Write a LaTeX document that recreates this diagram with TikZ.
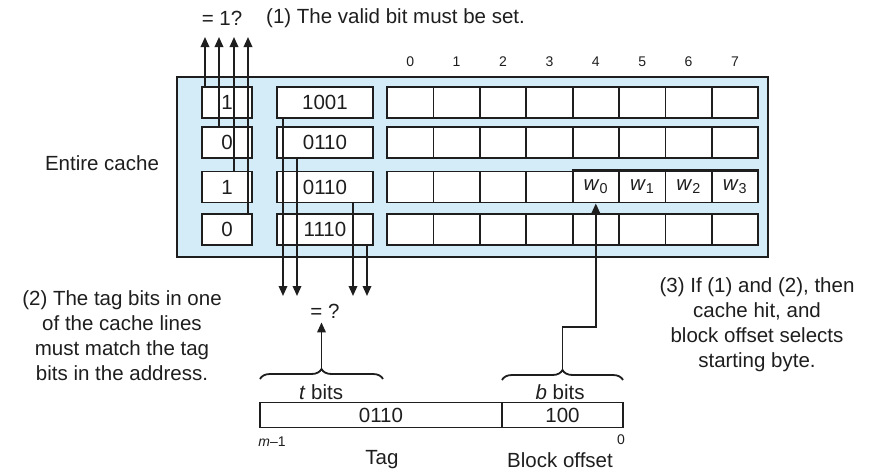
\documentclass[tikz,border=0pt]{standalone}
\usepackage{fontspec}
\setmainfont{Liberation Sans}
\usetikzlibrary{arrows.meta,decorations.pathreplacing}
\definecolor{cacheblue}{RGB}{212,236,248}
\definecolor{ink}{RGB}{30,30,30}

\begin{document}
\begin{tikzpicture}[x=1pt,y=-1pt,
  font=\fontsize{20.5}{25}\selectfont, line width=1.8pt, color=ink,
  cell/.style={draw,fill=white,inner sep=0pt,minimum height=31pt},
  small/.style={font=\fontsize{14}{16}\selectfont},
  brc/.style={decorate,decoration={brace,amplitude=10pt}},
  >={Triangle[length=10pt,width=8.5pt]}]
\useasboundingbox (0,0) rectangle (870,474);
% the cache
\node[draw,fill=cacheblue,inner sep=0pt,minimum width=591pt,minimum height=180pt] (cache) at (472.5,167) {};
\foreach \r/\y/\v/\t in {1/102.5/1/1001,2/142.5/0/0110,3/187/1/0110,4/229.5/0/1110}{
  \node[cell,minimum width=50pt] (v\r) at (227,\y) {\v};
  \node[cell,minimum width=96pt] (t\r) at (325,\y) {\t};
  \foreach \c in {0,...,7}
    \node[cell,minimum width=46.4pt] (d\r-\c) at ({410.2+46.4*\c},\y) {};
}
\foreach \c in {0,...,7}
  \node[small] (col\c) at ({410.2+46.4*\c},62) {\c};
\foreach \c/\k in {4/0,5/1,6/2,7/3}
  \node (w\k) at (d3-\c) {\textit{w}\textsubscript{\k}};
\draw[line width=2.8pt] (d3-4.north west) -- (d3-7.north east);
\node (entire) at (102,163) {Entire cache};
% valid bits up, tags down
\foreach \i/\x in {1/205,2/219,3/234,4/248}{
  \coordinate (up\i) at (\x,37);
  \draw[->] (up\i |- v\i.north) -- (up\i);
}
\foreach \i/\x in {1/283,2/297,3/353,4/367}{
  \coordinate (dn\i) at (\x,296);
  \draw[->] (dn\i |- t\i.south) -- (dn\i);
}
\node (valid) at (222,18) {= 1?};
\node[anchor=west] (step1) at (262,18) {(1) The valid bit must be set.};
\node (eqq) at (325,311) {= ?};
% the address
\node[cell,minimum width=242pt,minimum height=25pt] (tagf) at (381,415) {0110};
\node[cell,minimum width=121pt,minimum height=25pt] (offf) at (562.5,415) {100};
\coordinate (tb0) at (260,379); \coordinate (tb1) at (383,379);
\coordinate (bb0) at (502,380); \coordinate (bb1) at (623,380);
\draw[brc] (tb0) -- (tb1);
\draw[brc] (bb0) -- (bb1);
\coordinate (tbr) at (321.5,369);
\coordinate (bbr) at (562.5,370);
\coordinate (jog) at (562.5,327);
\draw[->] (tbr) -- (tbr |- eqq.south);
\draw[->] (bbr) -- (jog) -| (d3-4.south);
\node (tbits) at (321,392) {\textit{t} bits};
\node (bbits) at (560,392) {\textit{b} bits};
\node[small] (msb) at (272,442) {\textit{m}–1};
\node[small] (lsb) at (621,440) {0};
\node (tagl) at (382,460) {Tag};
\node (offl) at (560,460) {Block offset};
% notes
\node[align=center] (step2) at (122,336) {(2) The tag bits in one\\of the cache lines\\must match the tag\\bits in the address.};
\node[align=center] (step3) at (757,325) {(3) If (1) and (2), then\\cache hit, and\\block offset selects\\starting byte.};
\end{tikzpicture}
\end{document}
